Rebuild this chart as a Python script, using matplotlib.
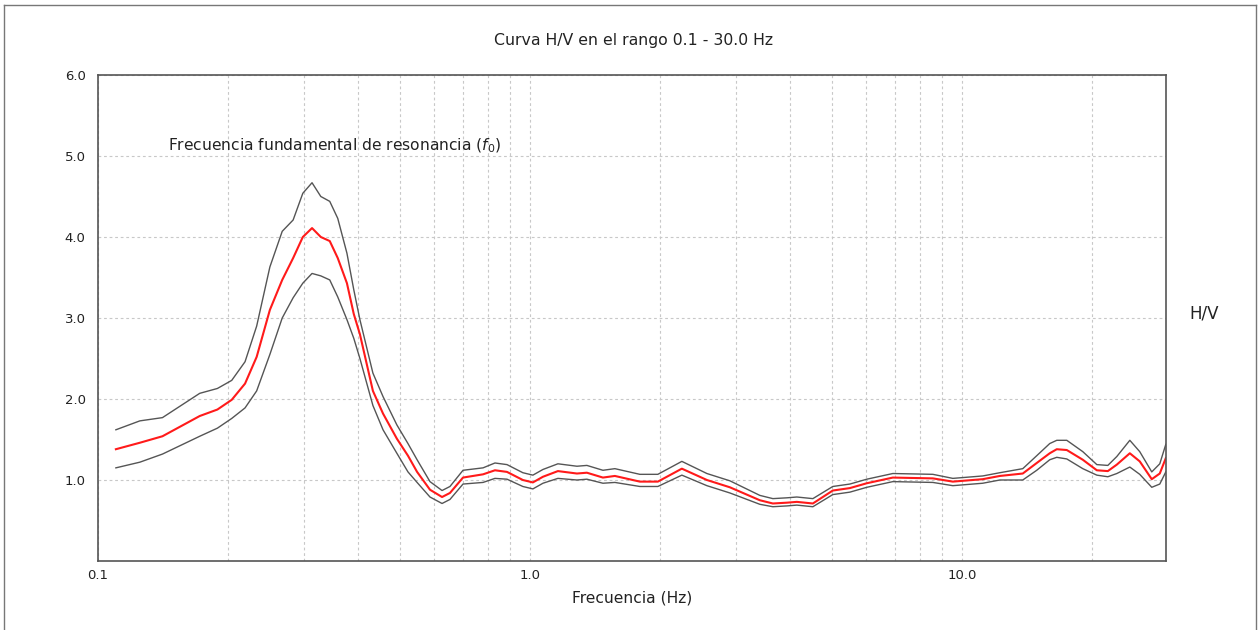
import matplotlib

matplotlib.use("Agg")
import matplotlib.pyplot as plt
from matplotlib.lines import Line2D
from matplotlib.ticker import FixedLocator, LogLocator, NullFormatter

# H/V spectral ratio: mean curve and +/- one standard deviation
freq = [
    0.110, 0.125, 0.141, 0.172, 0.189, 0.204, 0.219, 0.233, 0.250, 0.267,
    0.283, 0.298, 0.313, 0.328, 0.344, 0.359, 0.377, 0.391, 0.404, 0.433,
    0.457, 0.492, 0.522, 0.548, 0.587, 0.626, 0.653, 0.700, 0.779, 0.830,
    0.885, 0.963, 1.016, 1.072, 1.161, 1.285, 1.355, 1.476, 1.573, 1.797,
    1.978, 2.248, 2.569, 2.904, 3.407, 3.652, 3.935, 4.150, 4.520, 5.027,
    5.505, 6.027, 6.923, 8.569, 9.532, 11.18, 12.25, 13.84, 14.91, 15.98,
    16.59, 17.50, 19.06, 20.54, 21.78, 22.85, 24.49, 25.82, 27.53, 28.73,
    29.67,
]
hv_mean = [
    1.38, 1.46, 1.54, 1.79, 1.87, 1.99, 2.19, 2.52, 3.10, 3.47,
    3.74, 4.00, 4.11, 4.00, 3.95, 3.74, 3.43, 3.05, 2.80, 2.10,
    1.82, 1.51, 1.30, 1.10, 0.88, 0.79, 0.84, 1.03, 1.07, 1.12,
    1.10, 1.00, 0.97, 1.04, 1.11, 1.08, 1.09, 1.03, 1.05, 0.98,
    0.98, 1.14, 1.00, 0.91, 0.75, 0.71, 0.72, 0.73, 0.71, 0.87,
    0.90, 0.96, 1.03, 1.02, 0.98, 1.01, 1.05, 1.08, 1.21, 1.33,
    1.38, 1.37, 1.25, 1.12, 1.11, 1.19, 1.33, 1.23, 1.01, 1.08,
    1.27,
]
hv_upper = [
    1.62, 1.73, 1.77, 2.07, 2.13, 2.23, 2.46, 2.90, 3.63, 4.07,
    4.21, 4.54, 4.67, 4.50, 4.44, 4.23, 3.80, 3.35, 2.98, 2.32,
    2.03, 1.68, 1.45, 1.25, 0.98, 0.87, 0.92, 1.12, 1.15, 1.21,
    1.19, 1.09, 1.06, 1.13, 1.20, 1.17, 1.18, 1.12, 1.14, 1.07,
    1.07, 1.23, 1.08, 0.99, 0.81, 0.77, 0.78, 0.79, 0.77, 0.92,
    0.95, 1.01, 1.08, 1.07, 1.02, 1.05, 1.09, 1.14, 1.30, 1.45,
    1.49, 1.49, 1.35, 1.19, 1.18, 1.29, 1.49, 1.35, 1.10, 1.20,
    1.44,
]
hv_lower = [
    1.15, 1.22, 1.32, 1.54, 1.64, 1.76, 1.89, 2.10, 2.55, 3.00,
    3.25, 3.43, 3.55, 3.52, 3.47, 3.26, 2.98, 2.75, 2.50, 1.92,
    1.62, 1.33, 1.10, 0.97, 0.79, 0.71, 0.76, 0.95, 0.97, 1.02,
    1.01, 0.92, 0.89, 0.96, 1.02, 1.00, 1.01, 0.96, 0.97, 0.92,
    0.92, 1.06, 0.93, 0.84, 0.70, 0.67, 0.68, 0.69, 0.67, 0.82,
    0.85, 0.91, 0.98, 0.97, 0.93, 0.96, 1.00, 1.00, 1.12, 1.25,
    1.28, 1.26, 1.14, 1.06, 1.04, 1.08, 1.16, 1.07, 0.91, 0.95,
    1.10,
]

x_ticks = [0.1, 1.0, 10.0]
x_ticklabels = ["0.1", "1.0", "10.0"]
y_ticks = [1, 2, 3, 4, 5, 6]
y_ticklabels = ["1.0", "2.0", "3.0", "4.0", "5.0", "6.0"]

plt.rcParams["font.family"] = ["DejaVu Sans"]

fig = plt.figure(figsize=(12.6, 6.3), dpi=100)
ax = fig.add_axes([98 / 1260, 1 - 561 / 630, (1166 - 98) / 1260, (561 - 75) / 630])

ax.plot(freq, hv_upper, color="#555555", lw=1.0)
ax.plot(freq, hv_lower, color="#555555", lw=1.0)
ax.plot(freq, hv_mean, color="#ff1a1a", lw=1.5)

ax.set_xscale("log")
ax.set_xlim(0.1, 29.7)
ax.set_ylim(0, 6)

ax.xaxis.set_major_locator(FixedLocator(x_ticks))
ax.set_xticklabels(x_ticklabels)
ax.xaxis.set_minor_locator(LogLocator(base=10, subs=range(2, 10)))
ax.xaxis.set_minor_formatter(NullFormatter())
ax.set_yticks(y_ticks)
ax.set_yticklabels(y_ticklabels)
ax.tick_params(which="both", length=0, labelsize=9.5, colors="#222222")
ax.tick_params(axis="x", pad=6)
ax.tick_params(axis="y", pad=9)

grid_kw = dict(color="#c8c8c8", lw=0.8, linestyle=(0, (2.5, 2.5)))
ax.grid(True, which="both", axis="x", **grid_kw)
ax.grid(True, which="major", axis="y", **grid_kw)
ax.set_axisbelow(True)

for side in ("left", "bottom", "top", "right"):
    ax.spines[side].set_color("#555555")
    ax.spines[side].set_linewidth(1.2)

ax.set_xlabel("Frecuencia (Hz)", fontsize=11.2, color="#222222", labelpad=6)
fig.text(1204 / 1260, 1 - 313 / 630, "H/V", fontsize=12, color="#222222",
         ha="center", va="center")

fig.text(633 / 1260, 1 - 40 / 630, "Curva H/V en el rango 0.1 - 30.0 Hz",
         fontsize=11.3, color="#222222", ha="center", va="center")
fig.text(168 / 1260, 1 - 146 / 630,
         r"Frecuencia fundamental de resonancia ($\mathit{f_0}$)",
         fontsize=11.2, color="#222222", ha="left", va="center")

# thin frame around the whole image
for xs, ys in (([4, 1256], [5, 5]), ([4, 4], [5, 630]), ([1256, 1256], [5, 630])):
    fig.add_artist(Line2D([x / 1260 for x in xs], [1 - y / 630 for y in ys],
                          color="#777777", lw=1.0, transform=fig.transFigure))

fig.savefig("out.png", dpi=100)
